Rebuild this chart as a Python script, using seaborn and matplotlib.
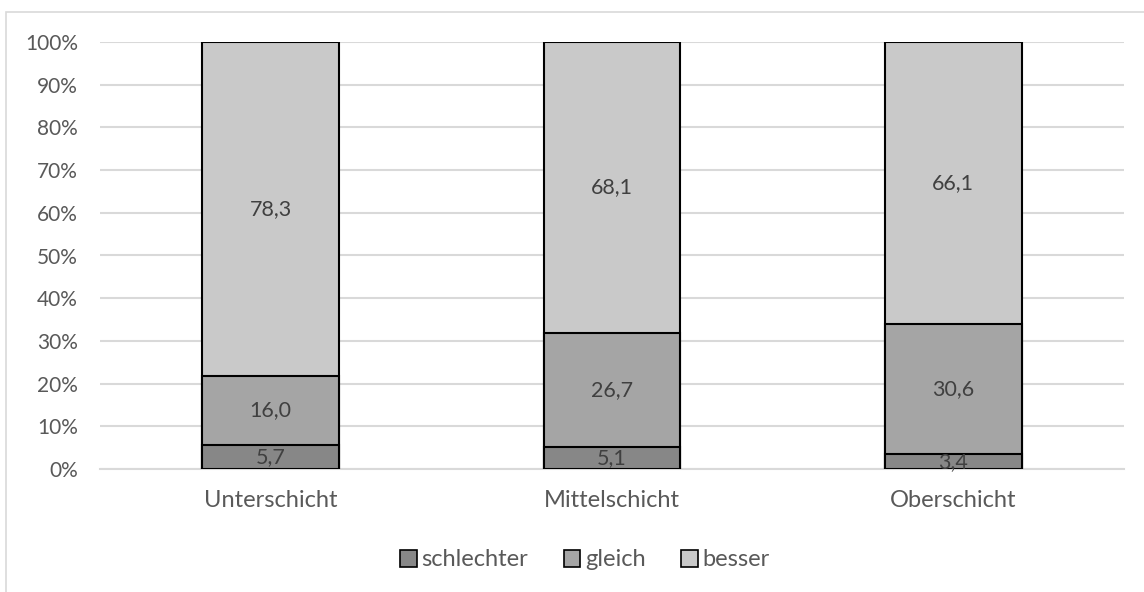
import matplotlib
matplotlib.use("Agg")
import matplotlib.pyplot as plt
import seaborn as sns
import pandas as pd
import numpy as np
from matplotlib.patches import Patch, Rectangle

categories = ["Unterschicht", "Mittelschicht", "Oberschicht"]
series = ["schlechter", "gleich", "besser"]
schlechter = [5.7, 5.1, 3.4]
gleich = [16.0, 26.7, 30.6]
besser = [78.3, 68.1, 66.1]
yticks = [0, 10, 20, 30, 40, 50, 60, 70, 80, 90, 100]

colors = {"schlechter": "#878787", "gleich": "#a5a5a5", "besser": "#c9c9c9"}
text_color = "#595959"
label_color = "#404040"

sns.set_theme(style="white")
plt.rcParams["font.family"] = ["Lato", "DejaVu Sans"]

# 100% stacked: each column is scaled to its own total
vals = np.array([schlechter, gleich, besser], dtype=float)
share = vals / vals.sum(axis=0) * 100
cum = np.cumsum(share, axis=0)

df = pd.DataFrame({"Schicht": categories})
for i, s in enumerate(series):
    df[s + "_top"] = cum[i]
    df[s + "_mid"] = cum[i] - share[i] / 2

fig = plt.figure(figsize=(11.44, 5.92), dpi=100)
ax = fig.add_axes([100 / 1144, 123 / 592, 1024 / 1144, 427 / 592])

# draw cumulative heights from the top segment down so lower segments overlay
for s in reversed(series):
    sns.barplot(data=df, x="Schicht", y=s + "_top", color=colors[s],
                saturation=1, width=0.4, edgecolor="black", linewidth=1.5,
                ax=ax, zorder=3)

for i, s in enumerate(series):
    for j in range(len(categories)):
        ax.text(j, df[s + "_mid"][j], f"{vals[i, j]:.1f}".replace(".", ","),
                ha="center", va="center", fontsize=15.5, color=label_color,
                zorder=4)

ax.set_xlim(-0.5, 2.5)
ax.set_ylim(0, 100)
ax.set_yticks(yticks)
ax.set_yticklabels([f"{t}%" for t in yticks])
ax.set_xlabel("")
ax.set_ylabel("")
ax.tick_params(axis="y", length=0, pad=16, labelsize=15, labelcolor=text_color)
ax.tick_params(axis="x", length=0, pad=15, labelsize=17, labelcolor=text_color)
ax.grid(axis="y", color="#d9d9d9", linewidth=1.5, zorder=0)
ax.set_axisbelow(True)
for side in ["top", "right", "left"]:
    ax.spines[side].set_visible(False)
ax.spines["bottom"].set_color("#d9d9d9")
ax.spines["bottom"].set_linewidth(1.5)

handles = [Patch(facecolor=colors[s], edgecolor="black", linewidth=1.2, label=s)
           for s in series]
leg = fig.legend(handles=handles, loc="center", bbox_to_anchor=(585 / 1144, 1 - 560 / 592),
                 ncol=3, frameon=False, fontsize=17, handlelength=0.7, handleheight=0.7,
                 handletextpad=0.2, columnspacing=1.5)
for t in leg.get_texts():
    t.set_color(text_color)

# chart area frame
fig.patches.append(Rectangle((6 / 1144, -0.1), 1.2, (592 - 12) / 592 + 0.1,
                             transform=fig.transFigure, fill=False,
                             edgecolor="#d9d9d9", linewidth=1.2))

fig.savefig("out.png", dpi=100)
